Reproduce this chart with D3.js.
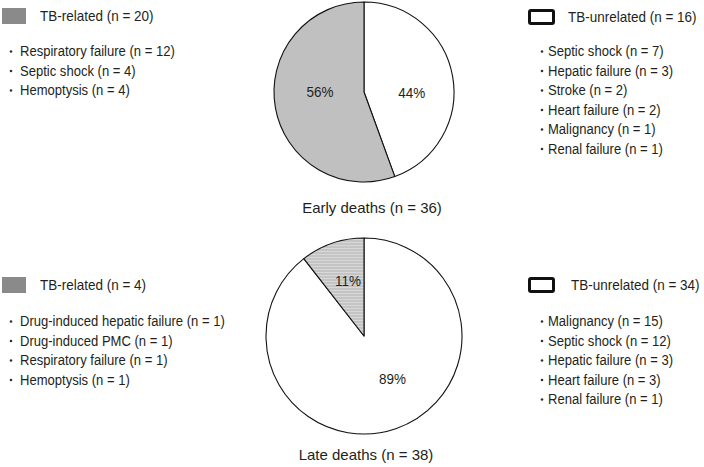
<!DOCTYPE html>
<html><head><meta charset="utf-8">
<script src="https://cdn.jsdelivr.net/npm/d3@7"></script>
<style>
html,body{margin:0;padding:0;background:#fff;}
text{font-family:"Liberation Sans",Arial,sans-serif;fill:#231f20;}
</style></head>
<body><svg id="c" width="704" height="467"></svg>
<script>
// ---- data ----
const earlyGroups = ["TB-unrelated", "TB-related"];
const earlyValues = [16, 20];
const earlyPct = ["44%", "56%"];
const earlyTitle = "Early deaths (n = 36)";
const earlyRelatedCauses = ["Respiratory failure (n = 12)", "Septic shock (n = 4)", "Hemoptysis (n = 4)"];
const earlyUnrelatedCauses = ["Septic shock (n = 7)", "Hepatic failure (n = 3)", "Stroke (n = 2)", "Heart failure (n = 2)", "Malignancy (n = 1)", "Renal failure (n = 1)"];

const lateGroups = ["TB-unrelated", "TB-related"];
const lateValues = [34, 4];
const latePct = ["89%", "11%"];
const lateTitle = "Late deaths (n = 38)";
const lateRelatedCauses = ["Drug-induced hepatic failure (n = 1)", "Drug-induced PMC (n = 1)", "Respiratory failure (n = 1)", "Hemoptysis (n = 1)"];
const lateUnrelatedCauses = ["Malignancy (n = 15)", "Septic shock (n = 12)", "Hepatic failure (n = 3)", "Heart failure (n = 3)", "Renal failure (n = 1)"];

// ---- layout ----
const svg = d3.select("#c");
const defs = svg.append("defs");
const pat = defs.append("pattern").attr("id","hatch").attr("patternUnits","userSpaceOnUse")
  .attr("width",6).attr("height",3);
pat.append("rect").attr("width",6).attr("height",3).attr("fill","#c4c4c4");
pat.append("rect").attr("y",2).attr("width",6).attr("height",1).attr("fill","#d8d8d8");

const colorEarly = d3.scaleOrdinal().domain(earlyGroups).range(["#ffffff", "#c0c0c0"]);
const colorLate = d3.scaleOrdinal().domain(lateGroups).range(["#ffffff", "url(#hatch)"]);

function txt(parent, x, y, s, size, sx, anchor) {
  return parent.append("text")
    .attr("transform", `translate(${x},${y}) scale(${sx},1)`)
    .attr("text-anchor", anchor || "start")
    .style("font-size", size + "px").text(s);
}

function drawPie(cx, cy, r, groups, values, pcts, color, title, titleDx, titleY, labelCfg) {
  const g = svg.append("g").attr("transform", `translate(${cx},${cy})`);
  const pie = d3.pie().sort(null).value(d => d.v);
  const arcs = pie(groups.map((k,i)=>({k, v: values[i], p: pcts[i]})));
  const arc = d3.arc().innerRadius(0).outerRadius(r);
  g.selectAll("path").data(arcs).join("path")
    .attr("d", arc).attr("fill", d => color(d.data.k))
    .attr("stroke", "#111").attr("stroke-width", 1.1).attr("stroke-linejoin","round");
  arcs.forEach((d,i) => {
    const la = d3.arc().innerRadius(r*labelCfg[i].f).outerRadius(r*labelCfg[i].f)
      .startAngle(d.startAngle + labelCfg[i].shift).endAngle(d.endAngle + labelCfg[i].shift);
    const c = la.centroid(d);
    txt(g, c[0], c[1] + 5.5, d.data.p, 15, 0.9, "middle");
  });
  txt(svg, cx + titleDx, titleY, title, 15, 1.0, "middle");
}

drawPie(364, 92, 90, earlyGroups, earlyValues, earlyPct, colorEarly, earlyTitle, 8, 213,
  [{f:0.53, shift:0.19}, {f:0.49, shift:0.19}]);
drawPie(364, 336, 98, lateGroups, lateValues, latePct, colorLate, lateTitle, 2, 460,
  [{f:0.52, shift:-0.26}, {f:0.59, shift:0.05}]);

function legend(x, y, kind, header, causes, textX, bulletX, itemX, firstY) {
  if (kind === "filled") {
    svg.append("rect").attr("x", x).attr("y", y).attr("width", 24).attr("height", 16).attr("fill", "#8a8a8a");
  } else {
    svg.append("rect").attr("x", x+1.5).attr("y", y+1.5).attr("width", 24).attr("height", 13)
      .attr("rx",1.5).attr("fill", "#fff").attr("stroke", "#111").attr("stroke-width", 3);
  }
  txt(svg, textX, y+13, header, 15, 0.9);
  const rows = svg.append("g");
  causes.forEach((c,i) => {
    const yy = firstY + i*19.5;
    rows.append("circle").attr("cx", bulletX).attr("cy", yy-4.5).attr("r", 1.3).attr("fill", "#333");
    txt(rows, itemX, yy, c, 15, 0.87);
  });
}

legend(2, 8, "filled", "TB-related (n = 20)", earlyRelatedCauses, 40, 11, 20, 56);
legend(528, 9, "open", "TB-unrelated (n = 16)", earlyUnrelatedCauses, 568, 542, 548, 56);
legend(2, 277, "filled", "TB-related (n = 4)", lateRelatedCauses, 40, 11, 20, 326);
legend(528, 277, "open", "TB-unrelated (n = 34)", lateUnrelatedCauses, 571, 542, 548, 326);
</script></body></html>
